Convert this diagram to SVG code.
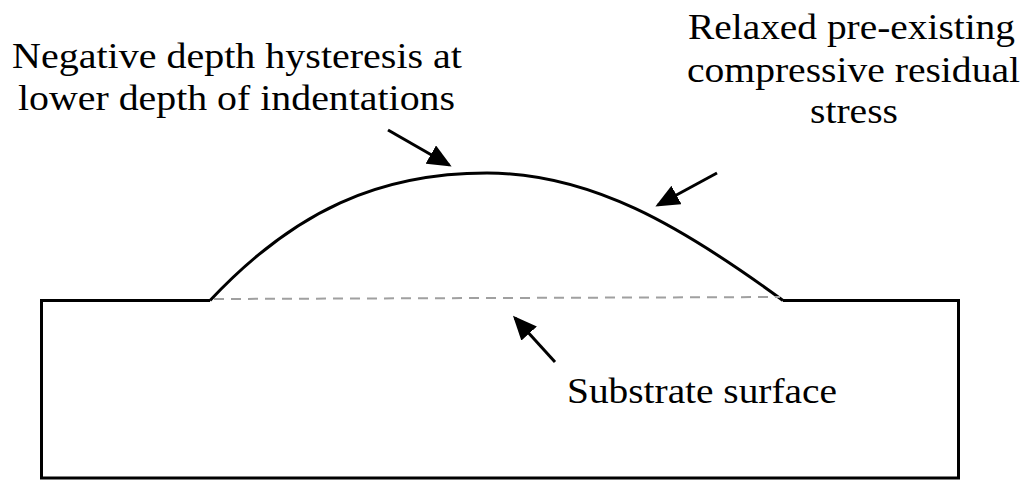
<svg xmlns="http://www.w3.org/2000/svg" width="1027" height="481" viewBox="0 0 1027 481">
<defs>
<style>
.t{font-family:"Liberation Serif","Times New Roman",serif;font-size:36px;fill:#000}
.ln{fill:none;stroke:#000;stroke-width:3}
.ar{stroke:#000;stroke-width:3;fill:none}
</style>
<marker id="ah" markerWidth="8" markerHeight="7" refX="7" refY="3.5" orient="auto" markerUnits="strokeWidth">
<path d="M0,0 L8,3.5 L0,7 Z" fill="#000"/>
</marker>
</defs>
<rect width="1027" height="481" fill="#fff"/>
<g id="substrate">
<path class="ln" d="M210,300.5 L41.5,300.5 L41.5,478 L958.5,478 L958.5,300.5 L783,300.5"/>
</g>
<g id="film">
<path class="ln" d="M210,300.5 C 295,210 380,173 487,173 C 590,173 680,225 783,300.5"/>
</g>
<g id="surface">
<line x1="214" y1="299" x2="780" y2="297" stroke="#a0a0a0" stroke-width="2" stroke-dasharray="10,7"/>
</g>
<g id="connectors">
<line class="ar" x1="388" y1="130" x2="449" y2="165" marker-end="url(#ah)"/>
<line class="ar" x1="717" y1="173" x2="658" y2="205" marker-end="url(#ah)"/>
<line class="ar" x1="555" y1="362" x2="515" y2="318" marker-end="url(#ah)"/>
</g>
<g id="label-negative">
<text class="t" x="12" y="68" textLength="450" lengthAdjust="spacingAndGlyphs">Negative depth hysteresis at</text>
<text class="t" x="18" y="110" textLength="437" lengthAdjust="spacingAndGlyphs">lower depth of indentations</text>
</g>
<g id="label-relaxed">
<text class="t" x="688" y="39" textLength="327" lengthAdjust="spacingAndGlyphs">Relaxed pre-existing</text>
<text class="t" x="687" y="82" textLength="333" lengthAdjust="spacingAndGlyphs">compressive residual</text>
<text class="t" x="810" y="123" textLength="88" lengthAdjust="spacingAndGlyphs">stress</text>
</g>
<g id="label-substrate">
<text class="t" x="567" y="403" textLength="270" lengthAdjust="spacingAndGlyphs">Substrate surface</text>
</g>
</svg>
